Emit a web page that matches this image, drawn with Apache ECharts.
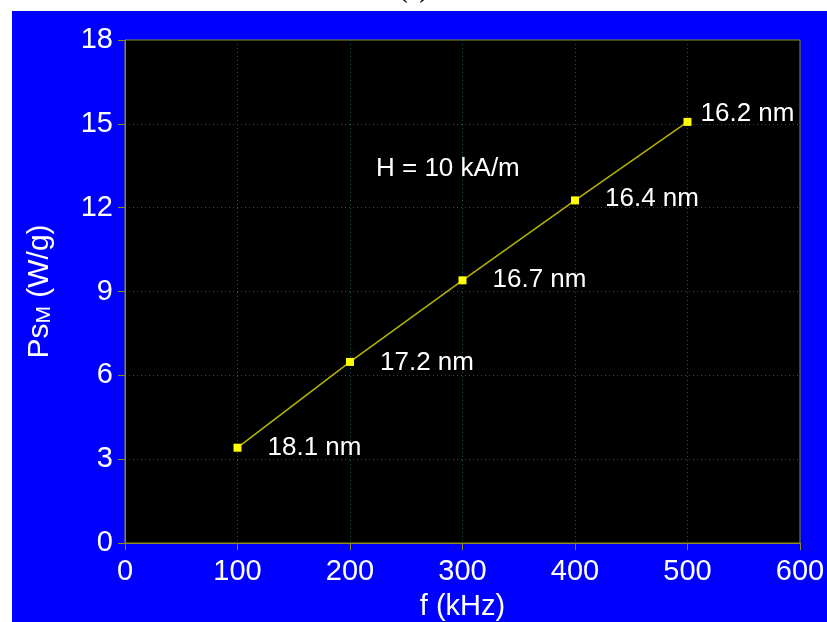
<!DOCTYPE html>
<html>
<head>
<meta charset="utf-8">
<style>
  html, body { margin: 0; padding: 0; background: #ffffff; }
  #chart { width: 827px; height: 622px; }
</style>
<script src="https://cdn.jsdelivr.net/npm/echarts@6/dist/echarts.min.js"></script>
</head>
<body>
<div id="chart"></div>
<script>
// Frequency (kHz), specific power loss Ps_M (W/g) and particle size for each point
const freqKHz = [100, 200, 300, 400, 500];
const powerWg = [3.41, 6.48, 9.40, 12.26, 15.07];
const sizeNm = [18.1, 17.2, 16.7, 16.4, 16.2];
const xTicks = [0, 100, 200, 300, 400, 500, 600];
const yTicks = [0, 3, 6, 9, 12, 15, 18];
const fieldNote = 'H = 10 kA/m';

// label nudges (pixels) for each size annotation
const labelNudge = [[0, 0], [0, 1], [0, 0], [0, -2], [-17, -8]];

const FONT = "'Liberation Sans', Arial, sans-serif";
const AXIS_COLOR = '#8c8c1e';

const points = freqKHz.map((f, i) => ({
  value: [f, powerWg[i]],
  label: { offset: labelNudge[i] }
}));

const chart = echarts.init(document.getElementById('chart'));
chart.setOption({
  animation: false,
  backgroundColor: '#ffffff',
  textStyle: { fontFamily: FONT },
  graphic: [
    {
      type: 'text', z: 0, left: 'center', top: -20,
      style: { text: '(a)', font: "bold 24px 'Liberation Serif', 'Times New Roman', serif", fill: '#000000' }
    },
    {
      type: 'rect', z: 1, shape: { x: 12, y: 11, width: 815, height: 611 },
      style: { fill: '#0000ff' }
    },
    {
      type: 'text', z: 10, left: 376, top: 156,
      style: { text: fieldNote, font: '26px ' + FONT, fill: '#ffffff' }
    }
  ],
  grid: {
    left: 125, right: 27, top: 40, bottom: 79,
    outerBoundsMode: 'none',
    containLabel: false,
    show: true, backgroundColor: '#000000',
    borderColor: AXIS_COLOR, borderWidth: 1, z: 2
  },
  xAxis: {
    type: 'value', min: xTicks[0], max: xTicks[xTicks.length - 1], interval: 100,
    z: 3,
    name: 'f (kHz)', nameLocation: 'middle', nameGap: 49,
    nameTextStyle: { color: '#ffffff', fontSize: 29, fontFamily: FONT },
    axisLine: { lineStyle: { color: AXIS_COLOR, width: 1 } },
    axisTick: { show: true, inside: false, length: 7, lineStyle: { color: AXIS_COLOR } },
    axisLabel: { color: '#ffffff', fontSize: 29, margin: 14, fontFamily: FONT },
    splitLine: { show: true, lineStyle: { color: '#14585a', type: [1, 3], width: 1 } }
  },
  yAxis: {
    type: 'value', min: yTicks[0], max: yTicks[yTicks.length - 1], interval: 3,
    z: 3,
    name: '{a|Ps}{b|M}{a| (W/g)}', nameLocation: 'middle', nameGap: 70,
    nameTextStyle: {
      color: '#ffffff', fontFamily: FONT,
      rich: {
        a: { fontSize: 30, color: '#ffffff', fontFamily: FONT, verticalAlign: 'bottom', lineHeight: 34 },
        b: { fontSize: 21, color: '#ffffff', fontFamily: FONT, verticalAlign: 'bottom', lineHeight: 28 }
      }
    },
    axisLine: { lineStyle: { color: AXIS_COLOR, width: 1 } },
    axisTick: { show: true, inside: false, length: 7, lineStyle: { color: AXIS_COLOR } },
    axisLabel: { color: '#ffffff', fontSize: 29, margin: 12, fontFamily: FONT },
    splitLine: { show: true, lineStyle: { color: '#14585a', type: [1, 3], width: 1 } }
  },
  series: [{
    type: 'line',
    z: 5,
    data: points,
    symbol: 'rect',
    symbolSize: 8,
    itemStyle: { color: '#ffff00' },
    lineStyle: { color: '#b4b400', width: 1.5 },
    label: {
      show: true, position: 'right', distance: 26,
      color: '#ffffff', fontSize: 26, fontFamily: FONT,
      formatter: p => sizeNm[p.dataIndex] + ' nm'
    }
  }]
});
</script>
</body>
</html>
